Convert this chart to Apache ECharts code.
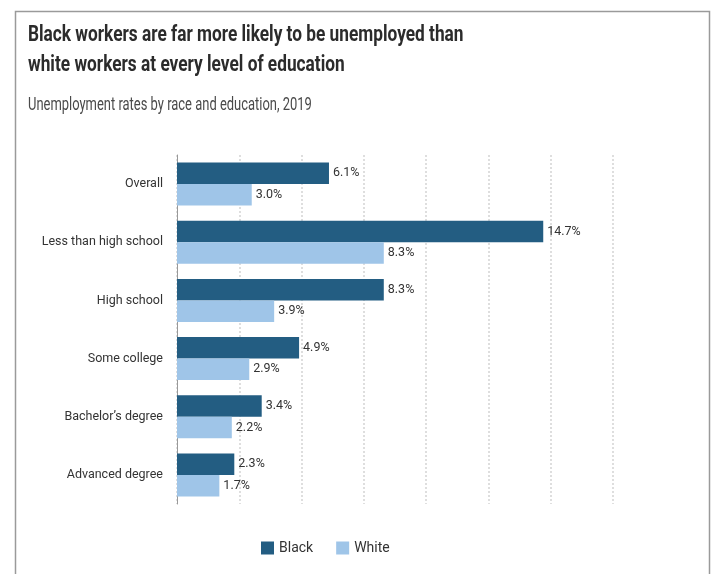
<!DOCTYPE html>
<html>
<head>
<meta charset="utf-8">
<script src="https://cdn.jsdelivr.net/npm/echarts@6/dist/echarts.min.js"></script>
<style>
html,body{margin:0;padding:0;background:#fff;}
#c{width:711px;height:574px;}
</style>
</head>
<body>
<div id="c"></div>
<script>
const categories = ["Overall", "Less than high school", "High school", "Some college", "Bachelor\u2019s degree", "Advanced degree"];
const black = [6.1, 14.7, 8.3, 4.9, 3.4, 2.3];
const white = [3.0, 8.3, 3.9, 2.9, 2.2, 1.7];
const seriesNames = ["Black", "White"];
const xTicks = [0, 2.5, 5, 7.5, 10, 12.5, 15, 17.5];
const titleLines = ["Black workers are far more likely to be unemployed than", "white workers at every level of education"];
const subtitle = "Unemployment rates by race and education, 2019";

const chart = echarts.init(document.getElementById('c'));
const labelStyle = {
  show: true, position: 'right', distance: 4,
  formatter: p => p.value.toFixed(1) + '%',
  color: '#333', fontSize: 12.5, fontFamily: 'Roboto'
};
const titleText = (txt, y, size, weight, color, sx) => ({
  type: 'text', x: 28, y: y, scaleX: sx, z: 10,
  style: {text: txt, x: 0, y: 0, verticalAlign: 'middle', align: 'left',
          font: weight + ' ' + size + 'px Roboto', fill: color}
});
chart.setOption({
  animation: false,
  backgroundColor: '#fff',
  graphic: [
    {type: 'rect', left: 13, top: 9, z: -1,
     shape: {width: 694, height: 580},
     style: {fill: 'none', stroke: '#9a9a9a', lineWidth: 1.5}},
    titleText(titleLines[0], 35, 22, 'bold', '#2b2b2b', 0.785),
    titleText(titleLines[1], 65, 22, 'bold', '#2b2b2b', 0.785),
    titleText(subtitle, 105.5, 17.5, 'normal', '#4a4a4a', 0.74)
  ],
  legend: {
    data: seriesNames, bottom: 14, left: 256, itemWidth: 13, itemHeight: 13, itemGap: 23,
    icon: 'rect',
    textStyle: {fontFamily: 'Roboto', fontSize: 14, color: '#333'}
  },
  grid: {left: 177, right: 98, top: 155, bottom: 70, containLabel: false},
  xAxis: {
    type: 'value', min: 0, max: 17.5, interval: 2.5,
    axisLabel: {show: false}, axisLine: {show: false}, axisTick: {show: false},
    splitLine: {show: true, lineStyle: {color: '#d4d4d4', type: [2, 2], width: 1.5}}
  },
  yAxis: {
    type: 'category', data: categories, inverse: true,
    axisLine: {show: true, lineStyle: {color: '#999', width: 1}},
    axisTick: {show: false},
    axisLabel: {margin: 14, color: '#333', fontSize: 12.5, fontFamily: 'Roboto'}
  },
  series: [
    {name: seriesNames[0], type: 'bar', data: black, barGap: '0%', barCategoryGap: '26%',
     itemStyle: {color: '#235d82'}, label: labelStyle},
    {name: seriesNames[1], type: 'bar', data: white,
     itemStyle: {color: '#9fc5e8'}, label: labelStyle}
  ]
});
</script>
</body>
</html>
